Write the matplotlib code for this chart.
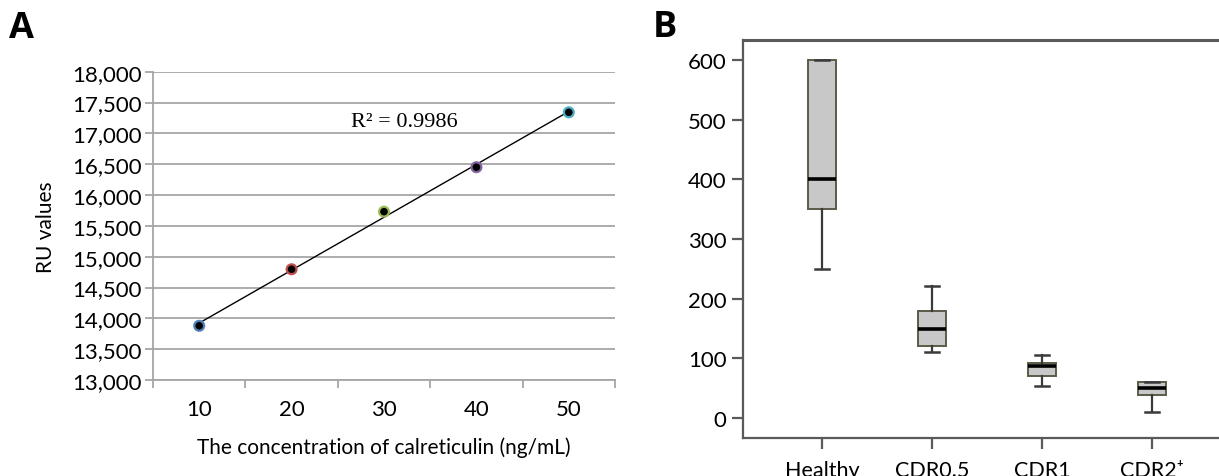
import numpy as np
import matplotlib
matplotlib.use("Agg")
import matplotlib.pyplot as plt

plt.rcParams['font.family'] = ['Lato', 'DejaVu Sans']

# ---- Panel A data ----
conc = [10, 20, 30, 40, 50]
ru_values = [13879, 14796, 15730, 16451, 17341]
point_colors = ['#4f81bd', '#c0504d', '#9bbb59', '#8064a2', '#4bacc6']
r2_text = "R\u00b2 = 0.9986"
a_yticks = list(range(13000, 18001, 500))

# ---- Panel B data ----
groups = ['Healthy', 'CDR0.5', 'CDR1', 'CDR2\u207a']
whislo = [250, 110, 54, 10]
q1 = [350, 120, 70, 39]
med = [400, 150, 87, 51]
q3 = [600, 180, 92, 61]
whishi = [600, 221, 106, 61]
b_yticks = [0, 100, 200, 300, 400, 500, 600]

W, H = 1219, 477
fig = plt.figure(figsize=(W / 100, H / 100), dpi=100)

# ---------------- Panel A ----------------
axA = fig.add_axes([153 / W, 1 - 381 / H, (615 - 153) / W, (381 - 72.7) / H])
axA.set_xlim(5, 55)
axA.set_ylim(13000, 18000)
axA.set_yticks(a_yticks)
axA.set_yticklabels([f"{v:,}" for v in a_yticks], fontsize=16)
axA.yaxis.grid(True, color='#a6a6a6', lw=1.3)
axA.set_axisbelow(True)
for s in ['top', 'right']:
    axA.spines[s].set_visible(False)
axA.spines['left'].set_color('#a6a6a6')
axA.spines['bottom'].set_color('#a6a6a6')
axA.spines['left'].set_linewidth(1.3)
axA.spines['bottom'].set_linewidth(1.3)
axA.tick_params(axis='y', length=6, color='#a6a6a6', width=1.3, pad=2)
axA.set_xticks(conc)
axA.set_xticklabels([str(c) for c in conc], fontsize=16)
axA.set_xticks(np.arange(5, 56, 10), minor=True)
axA.tick_params(axis='x', which='major', length=0, pad=14)
axA.tick_params(axis='x', which='minor', length=6, color='#a6a6a6', width=1.3)

coef = np.polyfit(conc, ru_values, 1)
xs = np.array([conc[0], conc[-1]])
axA.plot(xs, np.polyval(coef, xs), color='black', lw=1.0, zorder=3)
axA.scatter(conc, ru_values, s=50, c='black', edgecolors=point_colors,
            linewidths=1.6, zorder=4)
axA.text(351 / W, 1 - 123 / H, r2_text, transform=fig.transFigure, fontsize=16,
         family=['Liberation Serif', 'DejaVu Serif'], ha='left', va='center')
axA.set_ylabel('RU values', fontsize=15, labelpad=12)
axA.set_xlabel('The concentration of calreticulin (ng/mL)', fontsize=15,
               labelpad=12)
fig.text(9 / W, 1 - 29 / H, 'A', fontsize=26, fontweight='bold',
         family=['Open Sans', 'DejaVu Sans'], ha='left', va='center')

# ---------------- Panel B ----------------
axB = fig.add_axes([743 / W, 1 - 439 / H, (W - 743) / W, (439 - 41) / H])
px_per_unit = (419 - 61) / 600
axB.set_ylim(-(439 - 419) / px_per_unit, 600 + (61 - 41) / px_per_unit)
axB.set_xlim(-(822 - 743) / 110, -(822 - 743) / 110 + (W - 743) / 110)

stats = []
for i, g in enumerate(groups):
    stats.append(dict(label=g, whislo=whislo[i], q1=q1[i], med=med[i],
                      q3=q3[i], whishi=whishi[i], fliers=[]))
axB.bxp(stats, positions=range(len(groups)), widths=0.25, patch_artist=True,
        showfliers=False, capwidths=0.12,
        boxprops=dict(facecolor='#c8c8c8', edgecolor='#5c5a48', lw=1.4),
        medianprops=dict(color='black', lw=2.6),
        whiskerprops=dict(color='#3a3a3a', lw=1.6),
        capprops=dict(color='#3a3a3a', lw=1.8))
axB.set_yticks(b_yticks)
axB.set_yticklabels([str(v) for v in b_yticks], fontsize=16)
axB.set_xticks(range(len(groups)))
axB.set_xticklabels(groups, fontsize=15.5)
axB.spines['right'].set_visible(False)
for s in ['left', 'bottom', 'top']:
    axB.spines[s].set_color('#5a5a5a')
    axB.spines[s].set_linewidth(1.6)
axB.spines['top'].set_linewidth(2.2)
axB.tick_params(axis='y', length=8, width=1.6, color='#5a5a5a', pad=4)
axB.tick_params(axis='x', length=8, width=1.6, color='#5a5a5a', pad=8)
fig.text(653 / W, 1 - 28 / H, 'B', fontsize=26, fontweight='bold',
         family=['Open Sans', 'DejaVu Sans'], ha='left', va='center')

fig.savefig('out.png', dpi=100)
